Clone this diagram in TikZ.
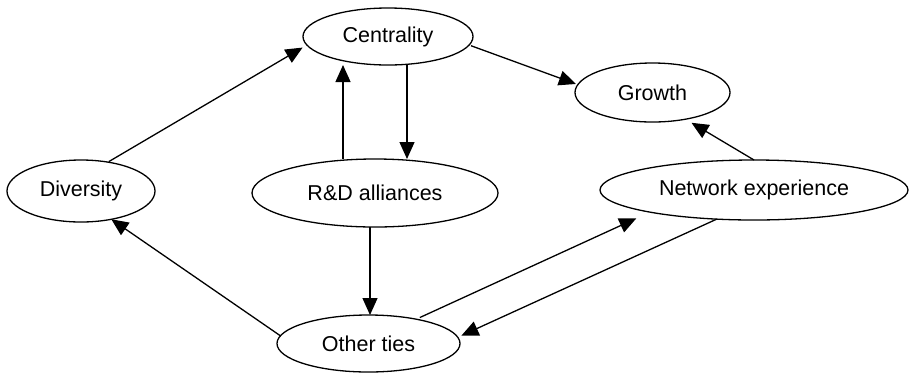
\documentclass[tikz,border=0pt]{standalone}
\usepackage{fontspec}
\setmainfont{Liberation Sans}
\usetikzlibrary{shapes.geometric,arrows.meta}
\begin{document}
\begin{tikzpicture}[x=1pt,y=-1pt,
  oval/.style={draw, ellipse, line width=1.3pt, inner sep=0pt, outer sep=0pt,
    font=\fontsize{21.5}{25}\selectfont},
  link/.style={line width=1.3pt, -{Triangle[length=17pt,width=15pt]}}]
\useasboundingbox (0,0) rectangle (909,373);

% constructs
\node[oval, minimum width=170pt, minimum height=57pt] (cent) at (388,36.5) {Centrality\hspace{6pt}};
\node[oval, minimum width=155pt, minimum height=59pt] (grow) at (652.5,92.5) {Growth\hspace{18pt}};
\node[oval, minimum width=148pt, minimum height=62pt] (div) at (81,191) {Diversity};
\node[oval, minimum width=246pt, minimum height=68pt] (rd) at (375,193) {R\&D alliances\hspace{16pt}};
\node[oval, minimum width=308pt, minimum height=60pt] (net) at (754,190) {Network experience};
\node[oval, minimum width=183pt, minimum height=57pt] (oth) at (368.5,343.5) {Other ties\hspace{12pt}};

% effects
\draw[link, shorten <=1pt, shorten >=5pt] (div.47) -- (cent.186);
\draw[link] ([xshift=-32pt]rd.north) -- ([xshift=-45pt]cent.south);
\draw[link] ([xshift=19pt]cent.south) -- ([xshift=32pt]rd.north);
\draw[link, shorten <=2pt, shorten >=2pt] (cent.354) -- (grow.174);
\draw[link, shorten >=7pt] (net.north) -- (grow.321);
\draw[link] ([xshift=-5pt]rd.south) -- ([xshift=1.5pt]oth.north);
\draw[link] (oth.175) -- (div.317);
\draw[link, shorten <=4pt, shorten >=15pt] (oth.27) -- (net.192.5);
\draw[link, shorten >=4pt] (net.218) -- (oth.4);
\end{tikzpicture}
\end{document}
